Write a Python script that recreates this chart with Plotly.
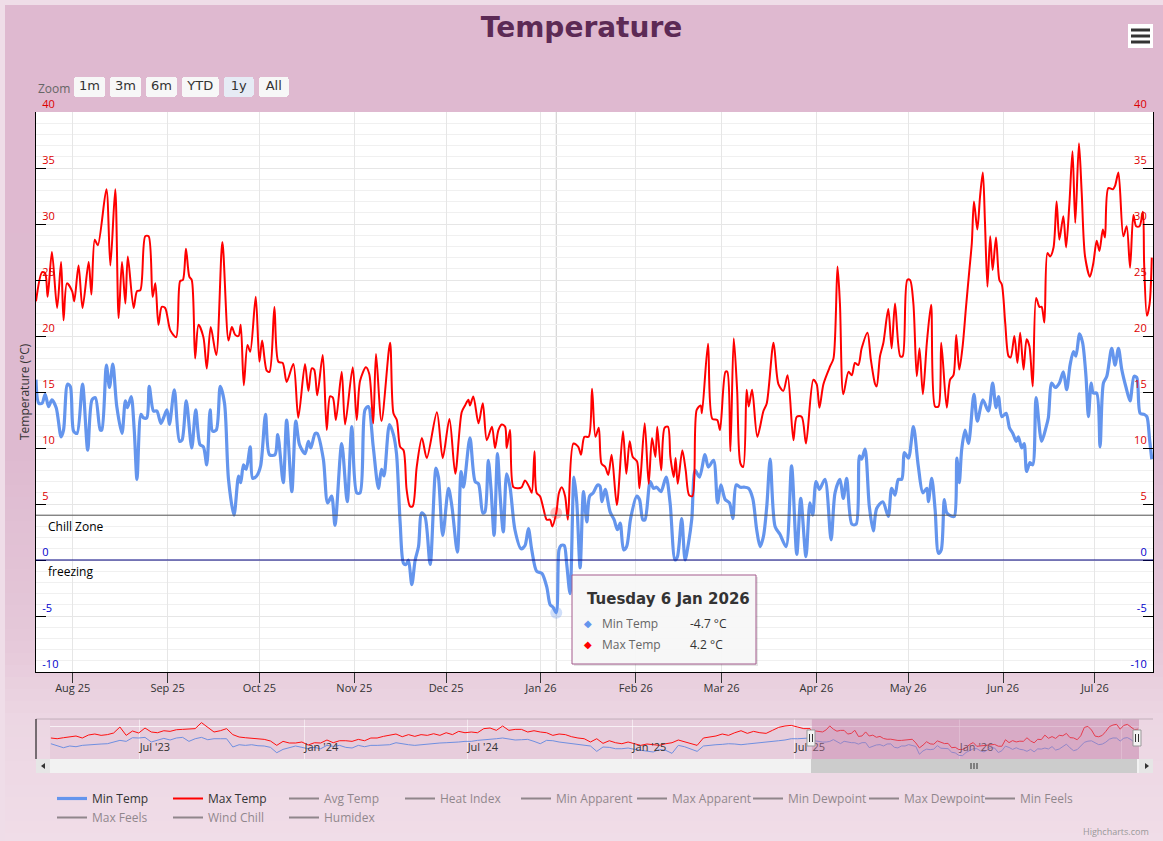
import pandas as pd
import plotly.graph_objects as go

# ---------------------------------------------------------------- data
START = pd.Timestamp("2025-07-20")          # left edge of the 1y view
VIEW_RANGE = ["2025-07-20", "2026-07-20"]
NAV_RANGE = ["2023-03-23", "2026-07-20"]
HIST_START = "2023-03-24"                   # weekly navigator history

# Max Temp: day offset from 20 Jul 2025, degC
max_day = [
    0, 2.0, 3.0, 3.8, 5.2, 6.9, 8.2, 9.0, 10.1, 11.8,
    12.5, 13.9, 15.2, 17.2, 18.1, 19.2, 20.2, 23.0, 24.3, 25.9,
    27.0, 28.1, 29.2, 30.0, 31.9, 33.0, 34.1, 35.7, 36.8, 38.1,
    39.0, 40.0, 41.1, 42.2, 43.9, 45.8, 47.1, 48.0, 49.0, 50.1,
    50.9, 52.0, 53.1, 54.7, 55.8, 57.1, 58.9, 60.9, 62.9, 64.0,
    65.1, 66.2, 66.9, 67.9, 69.1, 70.0, 71.8, 73.0, 73.9, 75.4,
    76.3, 77.9, 79.2, 80.6, 81.9, 84.1, 85.7, 87.9, 89.0, 90.1,
    90.9, 91.9, 93.7, 95.0, 96.1, 97.0, 98.0, 99.9, 101.0, 103.5,
    104.8, 105.9, 107.8, 108.9, 110.2, 111.1, 112.9, 115.7, 116.8, 117.9,
    119.0, 120.1, 121.1, 122.2, 123.1, 124.4, 126.1, 127.7, 131.0, 132.9,
    135.1, 137.0, 139.1, 140.2, 141.3, 141.8, 142.9, 144.6, 146.0, 147.3,
    149.0, 150.0, 151.1, 152.2, 153.3, 153.8, 154.9, 156.0, 157.6, 158.7,
    159.8, 161.2, 162.0, 162.9, 163.6, 164.7, 165.8, 166.9, 168.0, 168.7,
    170.0, 170.9, 171.8, 172.9, 173.8, 175.6, 177.2, 178.1, 179.2, 180.6,
    181.7, 182.8, 183.9, 184.8, 186.0, 187.0, 188.1, 189.8, 191.8, 192.9,
    194.0, 195.0, 196.4, 197.2, 198.9, 200.2, 201.3, 202.4, 203.0, 204.3,
    205.4, 206.5, 207.3, 208.4, 209.0, 209.7, 211.2, 212.3, 213.4, 214.5,
    215.9, 217.2, 217.6, 219.6, 221.0, 222.6, 223.5, 225.3, 225.9, 226.9,
    228.0, 229.1, 230.2, 231.1, 232.2, 232.9, 234.0, 235.7, 237.7, 238.8,
    241.0, 242.6, 244.2, 245.6, 247.5, 248.6, 250.2, 251.6, 254.0, 255.1,
    256.0, 257.3, 259.5, 260.6, 261.9, 262.7, 263.8, 265.5, 266.6, 267.6,
    268.7, 269.8, 271.7, 272.8, 274.2, 274.7, 275.8, 276.9, 278.5, 279.6,
    280.7, 282.4, 283.2, 284.7, 285.6, 286.7, 287.8, 288.7, 289.8, 291.1,
    292.5, 293.8, 294.9, 295.8, 297.6, 298.7, 299.8, 300.7, 301.7, 302.8,
    303.9, 305.0, 305.8, 306.5, 307.6, 308.5, 309.4, 310.1, 310.9, 311.8,
    312.6, 313.7, 314.8, 315.6, 316.7, 317.8, 318.5, 319.7, 320.7, 321.6,
    322.7, 323.7, 324.6, 325.7, 326.8, 327.9, 328.6, 329.5, 330.5, 331.4,
    332.5, 333.5, 334.4, 335.7, 336.6, 337.7, 338.7, 339.6, 340.8, 341.7,
    342.8, 344.4, 345.5, 346.6, 347.5, 348.6, 349.3, 350.4, 351.9, 352.6,
    353.7, 355.3, 356.4, 357.5, 358.6, 359.5, 360.6, 361.7, 362.1, 363.0,
    363.9, 364.6,
]
max_temp = [
    23.1, 25.7, 25.6, 23.5, 27.5, 22.5, 26.6, 21.4, 24.7, 24.0,
    23.1, 26.3, 22.5, 26.6, 23.7, 28.6, 28.1, 33.1, 26.3, 33.1,
    21.6, 26.6, 22.9, 27.1, 22.5, 24.0, 24.1, 28.9, 28.9, 23.5,
    24.7, 21.0, 22.6, 22.5, 20.5, 19.9, 24.9, 25.0, 27.8, 25.3,
    25.0, 18.0, 21.0, 19.9, 17.1, 20.8, 18.3, 28.4, 19.6, 20.8,
    20.1, 20.0, 21.0, 15.6, 19.2, 18.6, 23.5, 17.7, 19.6, 16.9,
    16.8, 22.6, 17.7, 17.6, 15.9, 17.5, 12.7, 17.5, 15.1, 17.1,
    17.0, 14.7, 18.3, 11.6, 14.6, 14.5, 12.5, 16.8, 12.1, 17.2,
    12.5, 16.0, 17.2, 16.6, 12.2, 18.4, 12.4, 19.4, 13.1, 12.5,
    10.1, 9.8, 6.3, 4.8, 4.8, 8.3, 10.9, 9.1, 13.2, 9.1,
    12.6, 7.7, 13.2, 13.8, 14.3, 13.8, 14.6, 12.2, 14.0, 10.7,
    11.9, 10.0, 11.6, 12.1, 11.9, 10.0, 11.6, 6.5, 6.4, 6.5,
    7.1, 6.5, 6.0, 9.7, 6.0, 5.7, 4.6, 3.6, 3.6, 3.0,
    4.2, 6.0, 6.5, 5.7, 3.6, 10.4, 10.1, 9.4, 11.0, 11.0,
    15.3, 11.0, 11.8, 8.6, 8.3, 7.6, 9.4, 4.9, 11.5, 7.7,
    10.6, 9.2, 8.8, 6.4, 12.2, 6.8, 10.9, 9.2, 11.9, 8.0,
    11.8, 11.9, 9.2, 7.4, 9.1, 6.8, 9.8, 8.0, 5.8, 5.7,
    13.4, 13.8, 13.1, 19.3, 12.6, 12.5, 11.6, 16.8, 16.8, 9.7,
    19.8, 15.2, 8.6, 8.3, 15.2, 13.7, 15.2, 11.0, 13.3, 14.0,
    19.4, 15.7, 15.1, 16.5, 10.7, 12.8, 12.8, 10.4, 16.1, 15.7,
    13.6, 15.7, 17.3, 18.0, 26.2, 22.9, 14.8, 16.8, 16.5, 17.6,
    17.4, 18.9, 20.3, 17.9, 15.7, 15.5, 18.2, 19.4, 22.4, 18.9,
    22.9, 18.2, 18.2, 25.0, 25.0, 22.9, 16.4, 18.9, 14.8, 19.4,
    22.8, 13.7, 13.7, 19.4, 13.6, 16.1, 16.5, 20.1, 17.0, 19.1,
    22.6, 25.9, 28.3, 32.0, 29.5, 32.5, 34.6, 30.1, 24.4, 28.9,
    25.9, 28.8, 25.0, 24.6, 21.2, 18.2, 18.1, 20.0, 17.6, 20.3,
    17.0, 19.7, 19.1, 15.5, 23.4, 22.6, 22.6, 21.2, 27.4, 27.1,
    27.9, 32.0, 28.6, 30.7, 27.9, 31.9, 36.5, 30.1, 37.2, 32.8,
    27.1, 25.3, 26.5, 28.5, 27.6, 29.5, 28.8, 33.2, 33.1, 33.4,
    34.6, 28.9, 29.8, 26.1, 30.8, 29.8, 29.8, 31.1, 26.5, 21.8,
    22.9, 27.0,
]

# Min Temp: day offset from 20 Jul 2025, degC
min_day = [
    0, 0.9, 2.0, 3.0, 4.1, 5.2, 6.6, 8.2, 9.0, 10.3,
    11.2, 12.3, 13.4, 15.2, 16.9, 18.3, 19.4, 21.0, 21.5, 23.0,
    24.0, 25.1, 26.4, 28.1, 29.2, 29.9, 31.1, 32.1, 33.0, 34.3,
    35.1, 36.2, 37.0, 38.4, 39.5, 40.8, 41.7, 42.8, 43.6, 45.2,
    46.9, 47.7, 49.1, 50.9, 52.2, 53.6, 54.7, 55.8, 56.9, 57.7,
    58.9, 60.2, 61.6, 62.9, 64.7, 66.2, 66.9, 67.8, 68.7, 70.0,
    70.8, 72.1, 73.4, 75.0, 76.3, 78.1, 79.0, 80.8, 81.9, 83.6,
    84.9, 86.1, 87.9, 89.0, 89.8, 91.2, 91.9, 93.9, 95.3, 96.6,
    97.7, 99.9, 101.7, 103.2, 104.8, 105.9, 107.5, 108.6, 110.2, 111.9,
    112.9, 113.7, 115.5, 116.8, 117.8, 119.0, 120.1, 120.9, 121.7, 122.8,
    123.9, 125.0, 126.0, 127.1, 128.8, 130.7, 131.5, 132.9, 134.8, 135.9,
    137.7, 138.9, 139.7, 141.8, 143.5, 144.6, 146.0, 146.7, 147.8, 148.7,
    149.7, 150.8, 151.6, 152.7, 153.8, 154.9, 156.5, 158.5, 159.8, 160.9,
    162.0, 163.6, 165.3, 166.9, 168.0, 168.9, 170.0, 170.9, 171.6, 172.6,
    173.4, 174.5, 175.8, 176.7, 177.8, 178.9, 180.0, 180.9, 182.1, 183.5,
    184.3, 184.9, 186.0, 187.6, 188.9, 190.0, 190.9, 192.0, 193.0, 194.3,
    196.3, 197.2, 198.3, 199.0, 200.7, 201.8, 202.8, 204.2, 205.9, 207.2,
    208.8, 209.6, 211.0, 212.1, 213.2, 214.3, 215.4, 216.8, 218.6, 219.7,
    221.4, 222.7, 223.8, 225.2, 226.6, 227.7, 228.8, 230.1, 231.4, 232.8,
    234.2, 235.5, 236.6, 237.7, 238.8, 239.9, 241.5, 243.1, 245.1, 246.9,
    248.6, 249.9, 251.6, 252.9, 253.8, 254.9, 256.0, 257.8, 259.8, 261.1,
    262.7, 263.8, 264.9, 266.6, 268.0, 269.1, 269.8, 270.9, 272.3, 273.6,
    274.7, 276.7, 278.5, 279.6, 280.7, 281.8, 282.9, 283.8, 285.1, 286.7,
    288.3, 289.8, 291.1, 291.6, 292.7, 293.8, 294.9, 295.8, 296.8, 297.6,
    299.2, 300.1, 300.9, 301.7, 302.5, 303.6, 304.7, 306.5, 307.6, 309.4,
    311.2, 312.6, 313.7, 314.5, 315.6, 317.0, 318.1, 319.2, 320.3, 321.0,
    322.1, 322.9, 323.7, 324.8, 325.7, 326.8, 328.6, 330.1, 330.8, 331.9,
    333.0, 334.4, 335.7, 336.8, 337.9, 339.0, 339.8, 341.0, 342.0, 343.1,
    343.9, 344.8, 345.5, 346.6, 347.7, 348.8, 349.9, 351.5, 352.6, 353.7,
    354.8, 356.2, 357.5, 358.8, 359.7, 360.8, 362.1, 363.0, 363.9, 364.6,
]
min_temp = [
    16.1, 14.0, 14.0, 14.8, 13.7, 14.3, 13.6, 11.0, 11.6, 15.7,
    15.5, 11.5, 11.3, 15.7, 9.8, 14.3, 14.5, 11.6, 11.6, 17.4,
    15.4, 17.5, 13.7, 11.3, 14.2, 13.6, 14.6, 11.6, 7.2, 13.0,
    12.7, 12.7, 15.5, 13.3, 13.3, 12.2, 12.7, 13.4, 12.1, 15.2,
    10.6, 10.7, 14.2, 10.0, 13.4, 10.3, 10.1, 8.5, 13.4, 11.5,
    11.6, 15.5, 14.0, 7.2, 4.0, 7.5, 6.9, 8.5, 8.1, 10.1,
    7.3, 7.5, 8.4, 13.0, 9.4, 9.4, 11.2, 6.9, 12.5, 6.1,
    12.4, 10.3, 9.5, 10.6, 10.0, 11.3, 11.3, 9.0, 5.1, 5.7,
    3.1, 10.4, 5.2, 11.9, 6.0, 6.0, 13.4, 13.7, 10.1, 6.4,
    8.1, 7.5, 12.1, 11.2, 9.5, 3.3, -0.3, -0.4, 0.0, -2.2,
    0.0, 1.2, 4.2, 3.9, -0.4, 8.2, 7.4, 2.2, 6.4, 4.8,
    0.7, 7.9, 6.5, 10.9, 7.0, 6.8, 4.2, 4.3, 8.9, 6.3,
    2.2, 9.5, 6.0, 2.5, 7.7, 6.5, 2.7, 1.0, 1.3, 2.8,
    0.9, -1.0, -1.2, -2.4, -4.0, -4.2, -4.7, 0.9, 1.3, 1.3,
    -0.3, -3.0, 7.4, 5.2, -0.7, 6.1, 3.4, 5.7, 6.0, 6.7,
    6.6, 5.2, 6.3, 4.3, 3.6, 2.7, 3.3, 0.9, 1.2, 3.7,
    5.7, 5.4, 3.6, 3.6, 7.0, 6.4, 6.5, 6.1, 7.4, 5.1,
    0.0, 0.3, 3.7, 0.0, 1.5, 3.7, 8.0, 7.4, 9.4, 8.3,
    8.9, 5.1, 6.7, 5.4, 5.1, 3.7, 6.7, 6.5, 6.5, 6.4,
    5.5, 2.7, 1.2, 2.1, 4.8, 9.0, 3.0, 2.3, 1.2, 8.4,
    0.5, 5.5, 0.3, 5.1, 4.0, 7.0, 6.3, 7.2, 1.8, 6.0,
    7.2, 5.5, 7.3, 3.2, 3.2, 9.3, 9.0, 9.9, 4.8, 2.6,
    4.6, 5.2, 3.9, 6.4, 5.8, 7.2, 7.2, 9.6, 9.1, 11.9,
    8.4, 6.0, 6.4, 5.2, 7.3, 4.5, 0.6, 0.9, 5.4, 4.2,
    3.9, 3.9, 9.1, 6.9, 9.9, 11.6, 10.4, 14.8, 12.4, 14.3,
    13.3, 15.8, 13.6, 14.6, 12.8, 13.1, 11.8, 11.3, 10.6, 11.0,
    10.0, 10.4, 7.9, 8.7, 8.5, 14.5, 10.6, 11.9, 12.7, 15.8,
    15.4, 15.8, 16.8, 15.2, 17.4, 18.6, 18.2, 20.2, 19.4, 16.4,
    12.8, 15.8, 14.9, 14.9, 10.1, 15.8, 16.4, 18.9, 17.4, 18.9,
    17.0, 15.4, 14.2, 16.4, 16.3, 13.1, 13.0, 12.8, 10.7, 9.0,
]

# navigator history before the view, one value per week from 24 Mar 2023
hist_max = [
    17.3, 16.5, 17.6, 18.4, 19.5, 17.3, 20.6, 21.7, 20.2, 21.0,
    22.8, 29.4, 20.2, 25.0, 22.8, 28.3, 23.9, 23.1, 25.3, 24.6,
    26.4, 26.8, 26.8, 27.6, 34.2, 28.7, 23.9, 25.3, 27.6, 21.0,
    18.4, 17.6, 16.9, 15.8, 15.8, 14.0, 9.2, 13.6, 11.8, 11.8,
    12.9, 9.6, 12.1, 11.8, 15.1, 12.1, 14.3, 14.3, 13.6, 15.8,
    14.3, 17.3, 17.3, 19.1, 20.2, 21.7, 18.7, 21.0, 19.1, 21.0,
    20.2, 22.0, 20.2, 23.1, 21.0, 24.6, 23.1, 23.9, 23.1, 27.6,
    28.3, 25.7, 30.5, 25.7, 26.8, 26.8, 23.9, 25.3, 23.9, 23.1,
    20.2, 21.7, 21.0, 18.7, 17.3, 16.5, 12.9, 16.5, 11.4, 14.3,
    12.1, 11.0, 12.9, 11.0, 9.2, 10.7, 9.9, 9.2, 11.0, 12.1,
    15.1, 12.9, 11.0, 9.2, 17.3, 18.4, 19.5, 21.7, 20.2, 23.1,
    25.3, 22.4, 24.6, 23.1, 22.4, 25.7, 29.0, 30.5, 31.2, 29.4,
    27.6, 27.6,
]
hist_min = [
    11.0, 9.2, 6.6, 8.5, 7.7, 9.2, 9.9, 9.9, 10.7, 11.0,
    12.5, 14.7, 13.6, 17.6, 17.3, 18.0, 12.9, 15.1, 16.9, 15.1,
    17.3, 18.0, 13.6, 16.5, 18.0, 15.4, 16.5, 16.5, 16.5, 7.4,
    9.9, 9.2, 9.9, 8.8, 8.5, 7.0, 1.1, 4.8, 7.0, 8.5,
    7.0, 5.5, 7.0, 5.5, 9.2, 8.1, 9.2, 7.0, 6.3, 9.2,
    7.7, 9.2, 9.2, 9.9, 9.9, 12.1, 10.7, 9.9, 9.2, 9.9,
    11.0, 11.0, 11.8, 12.1, 12.1, 12.9, 13.6, 13.6, 14.7, 15.1,
    15.8, 16.5, 17.3, 15.8, 15.1, 15.4, 15.8, 13.6, 11.0, 14.7,
    14.3, 12.9, 12.1, 11.4, 10.7, 9.2, 8.5, 2.6, 7.4, 7.0,
    5.5, 5.5, 6.3, 4.8, 3.7, 2.6, 1.9, 4.8, 3.7, 0.4,
    9.2, 7.7, 5.5, 2.6, 8.5, 9.6, 9.9, 10.3, 11.0, 10.7,
    9.9, 10.7, 11.4, 12.1, 12.1, 12.9, 14.3, 15.1, 16.5, 16.5,
    17.3, 17.3,
]

hidden_series = ["Avg Temp", "Heat Index", "Min Apparent", "Max Apparent",
                 "Min Dewpoint", "Max Dewpoint", "Min Feels", "Max Feels",
                 "Wind Chill", "Humidex"]
y_ticks = [-10, -5, 0, 5, 10, 15, 20, 25, 30, 35, 40]
plot_lines = [("Chill Zone", 4, "#555555"), ("freezing", 0, "#000080")]
nav_tick_dates = ["2023-07-01", "2024-01-01", "2024-07-01", "2025-01-01",
                  "2025-07-01", "2026-01-01", "2026-07-01"]
nav_tick_text = ["Jul '23", "Jan '24", "Jul '24", "Jan '25",
                 "Jul '25", "Jan '26", "Jul..."]
tooltip_day = 170.0

# ---------------------------------------------------------------- helpers
W, H = 1163, 841
GW = 1153            # paper width (right margin 10 px)


def px(x):
    return x / GW


def py(y):
    return 1 - y / H


max_dates = START + pd.to_timedelta(max_day, unit="D")
min_dates = START + pd.to_timedelta(min_day, unit="D")
hist_dates = pd.date_range(HIST_START, periods=len(hist_max), freq="7D")

tip_date = START + pd.Timedelta(days=tooltip_day)
tip_min = min_temp[min_day.index(tooltip_day)]
tip_max = max_temp[max_day.index(tooltip_day)]

# navigator groups the current year like the history (4-day means)
nav_min_year = pd.Series(min_temp, index=min_dates).resample("4D").mean().dropna()
nav_max_year = pd.Series(max_temp, index=max_dates).resample("4D").mean().dropna()


def tick_label(v):
    color = "#0000cc" if v <= 0 else "#dd0000"
    return f'<span style="color:{color}">{v}</span>'


bg_stops = [(5, (223, 185, 208)), (450, (222, 186, 208)), (640, (229, 200, 217)),
            (720, (236, 214, 227)), (841, (240, 221, 232))]


def bg_color(y):
    for (y0, c0), (y1, c1) in zip(bg_stops, bg_stops[1:]):
        if y <= y1:
            t = (y - y0) / (y1 - y0)
            return "rgb(%d,%d,%d)" % tuple(round(a + (b - a) * t) for a, b in zip(c0, c1))
    return "rgb(%d,%d,%d)" % bg_stops[-1][1]


def rect(x0, y0, x1, y1, fill, line=None, layer="below", width=1):
    return dict(type="rect", xref="paper", yref="paper",
                x0=px(x0), x1=px(x1), y0=py(y1), y1=py(y0),
                fillcolor=fill, layer=layer,
                line=dict(color=line or "rgba(0,0,0,0)", width=width if line else 0))


def seg(x0, y0, x1, y1, color, width=1, layer="above"):
    return dict(type="line", xref="paper", yref="paper",
                x0=px(x0), x1=px(x1), y0=py(y0), y1=py(y1),
                line=dict(color=color, width=width), layer=layer)


# ---------------------------------------------------------------- traces
fig = go.Figure()
fig.add_trace(go.Scatter(x=min_dates, y=min_temp, name="Min Temp", mode="lines",
                         line=dict(color="#6495ED", width=3.2, shape="spline", smoothing=0.8)))
fig.add_trace(go.Scatter(x=max_dates, y=max_temp, name="Max Temp", mode="lines", yaxis="y2",
                         line=dict(color="#ff0000", width=2, shape="spline", smoothing=0.8)))
for name in hidden_series:
    fig.add_trace(go.Scatter(x=[None], y=[None], name=name, mode="lines",
                             visible="legendonly", line=dict(color="#333333", width=2)))

# navigator series
fig.add_trace(go.Scatter(x=list(hist_dates) + list(nav_min_year.index),
                         y=hist_min + list(nav_min_year.values),
                         xaxis="x2", yaxis="y3", mode="lines", showlegend=False,
                         line=dict(color="#6f8fe0", width=1)))
fig.add_trace(go.Scatter(x=list(hist_dates) + list(nav_max_year.index),
                         y=hist_max + list(nav_max_year.values),
                         xaxis="x2", yaxis="y3", mode="lines", showlegend=False,
                         line=dict(color="#ff1010", width=1)))

# hover halos at the tooltip day
fig.add_trace(go.Scatter(x=[tip_date, tip_date], y=[tip_min, tip_max], mode="markers",
                         showlegend=False,
                         marker=dict(size=12, color=["rgba(100,149,237,0.3)", "rgba(255,0,0,0.25)"])))

# ---------------------------------------------------------------- shapes
shapes = []
y = 5
while y < H:
    shapes.append(rect(5, y, W, min(y + 12.5, H), bg_color(y + 6)))
    y += 12
shapes.append(rect(36, 112, 1153, 672, "#ffffff"))
shapes.append(rect(50, 719, 1139, 759, "#e7cddc"))

# crosshair
shapes.append(dict(type="line", xref="x", yref="paper", x0=tip_date, x1=tip_date,
                   y0=py(672), y1=py(112), line=dict(color="#cccccc", width=1), layer="below"))
# plot lines
for label, val, color in plot_lines:
    shapes.append(dict(type="line", xref="x", yref="y", x0=VIEW_RANGE[0], x1=VIEW_RANGE[1],
                       y0=val, y1=val, line=dict(color=color, width=1), layer="above"))

# navigator decorations
shapes.append(dict(type="rect", xref="x2", yref="paper", x0=VIEW_RANGE[0], x1=VIEW_RANGE[1],
                   y0=py(759), y1=py(719), fillcolor="rgba(195,125,168,0.42)",
                   line=dict(width=0), layer="above"))
shapes.append(seg(36, 719, 1153, 719, "#c2b0bb"))
shapes.append(seg(36, 719, 36, 759, "#000000"))
for hx in (811, 1137):
    shapes.append(rect(hx - 4, 730, hx + 4, 746, "#f2f2f2", line="#999999", layer="above"))
    shapes.append(seg(hx - 1.5, 734, hx - 1.5, 742, "#333333"))
    shapes.append(seg(hx + 1.5, 734, hx + 1.5, 742, "#333333"))

# scrollbar
shapes.append(rect(36, 759, 1153, 773, "#f2f2f2", layer="above"))
shapes.append(rect(36, 759, 50, 773, "#e6e6e6", layer="above"))
shapes.append(rect(1139, 759, 1153, 773, "#e6e6e6", layer="above"))
shapes.append(rect(811, 759, 1137, 773, "#cccccc", layer="above"))
for gx in (971, 974, 977):
    shapes.append(seg(gx, 763, gx, 769, "#333333"))
shapes.append(dict(type="path", xref="paper", yref="paper", layer="above",
                   path=f"M{px(45)},{py(763)} L{px(41)},{py(766)} L{px(45)},{py(769)} Z",
                   fillcolor="#333333", line=dict(width=0)))
shapes.append(dict(type="path", xref="paper", yref="paper", layer="above",
                   path=f"M{px(1145)},{py(763)} L{px(1149)},{py(766)} L{px(1145)},{py(769)} Z",
                   fillcolor="#333333", line=dict(width=0)))

# tooltip box
shapes.append(rect(574, 577, 758, 666, "rgba(0,0,0,0.10)", layer="above"))
shapes.append(rect(572, 575, 756, 664, "rgba(248,248,248,0.95)", line="#a35a8c", layer="above"))

# context menu button
shapes.append(rect(1128, 24, 1153, 48, "#ffffff", layer="above"))
for by in (30, 36, 42):
    shapes.append(seg(1131, by, 1150, by, "#333333", width=3))

# ---------------------------------------------------------------- annotations
ann = [
    dict(text="Temperature (°C)", x=px(25), y=py(392), textangle=-90, xanchor="center",
         font=dict(size=12, color="#333333")),
    dict(text="Zoom", x=px(36), y=py(88), xanchor="left",
         font=dict(size=12, color="#666666")),
    dict(text=f"<b>{tip_date:%A} {tip_date.day} {tip_date:%b %Y}</b>", x=px(585), y=py(599),
         xanchor="left", font=dict(size=15, color="#333333", family="DejaVu Sans")),
    dict(text="Highcharts.com", x=px(1151), y=py(831), xanchor="right",
         font=dict(size=9, color="#999999")),
]
for label, val, color in plot_lines:
    ann.append(dict(text=label, x=px(46), xref="paper", y=val, yref="y", xanchor="left",
                    yanchor="top", yshift=-1, font=dict(size=12, color="#000000")))
for row_y, color, name, val in ((623, "#6495ED", "Min Temp", tip_min),
                                (644, "#ff0000", "Max Temp", tip_max)):
    ann.append(dict(text="◆", x=px(588), y=py(row_y), xanchor="center",
                    font=dict(size=10, color=color)))
    ann.append(dict(text=name, x=px(600), y=py(row_y), xanchor="left",
                    font=dict(size=12, color="#666666")))
    ann.append(dict(text=f"{val} °C", x=px(688), y=py(row_y), xanchor="left",
                    font=dict(size=12, color="#333333")))
for a in ann:
    a.setdefault("xref", "paper")
    a.setdefault("yref", "paper")
    a.setdefault("yanchor", "middle")
    a.setdefault("showarrow", False)

# ---------------------------------------------------------------- layout
y_common = dict(range=[-10, 40], tickmode="array", tickvals=y_ticks,
                ticktext=[tick_label(v) for v in y_ticks],
                ticklabelposition="inside top", ticklabeloverflow="allow",
                ticklabelstandoff=5,
                ticks="inside", ticklen=10, tickcolor="#000000",
                showline=True, linecolor="#000000", linewidth=1,
                showgrid=True, gridcolor="#e6e6e6", zeroline=False, automargin=False,
                minor=dict(tick0=0, dtick=1, showgrid=True, gridcolor="#f0f0f0", ticks=""),
                tickfont=dict(size=11), fixedrange=True)

fig.update_layout(
    width=W, height=H, autosize=False,
    margin=dict(l=0, r=W - GW, t=0, b=0, autoexpand=False),
    paper_bgcolor="#efdde8", plot_bgcolor="rgba(0,0,0,0)",
    font=dict(family="Open Sans, DejaVu Sans, sans-serif", size=11, color="#333333"),
    title=dict(text="<b>Temperature</b>", x=0.5, xanchor="center", y=py(27), yanchor="middle",
               font=dict(size=28, color="#5c2a55", family="DejaVu Sans")),
    hovermode=False,
    xaxis=dict(domain=[px(36), 1.0], range=VIEW_RANGE, type="date", anchor="y",
               tickformat="%b %y", dtick="M1", tick0="2025-08-01",
               ticks="outside", ticklen=10, tickcolor="#333333", ticklabelstandoff=-4,
               showline=True, linecolor="#000000", showgrid=True, gridcolor="#e6e6e6",
               zeroline=False, automargin=False, tickfont=dict(size=11, color="#333333"),
               rangeselector=dict(
                   buttons=[dict(count=1, label="1m", step="month", stepmode="backward"),
                            dict(count=3, label="3m", step="month", stepmode="backward"),
                            dict(count=6, label="6m", step="month", stepmode="backward"),
                            dict(count=1, label="YTD", step="year", stepmode="todate"),
                            dict(count=1, label="1y", step="year", stepmode="backward"),
                            dict(label="All", step="all")],
                   x=px(74), xanchor="left", y=py(77), yanchor="top",
                   bgcolor="#f7f7f7", activecolor="#e6ebf5",
                   font=dict(size=13, color="#333333", family="DejaVu Sans"))),
    yaxis=dict(domain=[py(672), py(112)], anchor="x", side="left", **y_common),
    yaxis2=dict(overlaying="y", anchor="x", side="right", **y_common),
    xaxis2=dict(domain=[px(50), px(1139)], range=NAV_RANGE, type="date", anchor="y3",
                tickmode="array", tickvals=nav_tick_dates, ticktext=nav_tick_text,
                ticklabelposition="inside right", ticks="", showline=False,
                showgrid=True, gridcolor="rgba(255,255,255,0.55)", zeroline=False,
                automargin=False, tickfont=dict(size=11, color="#333333"), fixedrange=True),
    yaxis3=dict(domain=[py(759), py(719)], range=[-5.8, 38.2], anchor="x2",
                showticklabels=False, tickvals=[0, 15, 30], showgrid=True, automargin=False,
                gridcolor="rgba(255,255,255,0.7)", zeroline=False, fixedrange=True),
    legend=dict(orientation="h", x=px(52), xanchor="left", y=py(784), yanchor="top",
                entrywidth=71, entrywidthmode="pixels", itemwidth=30,
                bgcolor="rgba(0,0,0,0)", font=dict(size=12, color="#333333")),
    shapes=shapes,
    annotations=ann,
)

fig.write_html("out.html", config={"displayModeBar": False},
               post_script="document.body.style.margin='0';"
                           "document.body.style.background='#efdde8';")
